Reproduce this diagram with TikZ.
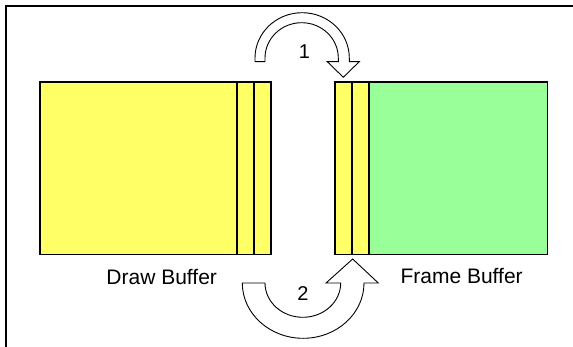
\documentclass[tikz,border=0pt]{standalone}
\usepackage{fontspec}
\setmainfont{Liberation Sans}
\definecolor{bufyellow}{HTML}{FFFF66}
\definecolor{bufgreen}{HTML}{99FF99}
\begin{document}
\begin{tikzpicture}[x=1pt,y=1pt,
  boxline/.style={line width=1.5pt},
  arrowshape/.style={draw=black,fill=white,line width=0.9pt,line join=miter},
  label/.style={font=\fontsize{21}{24}\selectfont,anchor=base,inner sep=0pt},
  num/.style={font=\fontsize{20}{24}\selectfont,inner sep=0pt}]
\useasboundingbox (0,0) rectangle (573,346);
\clip (0,0) rectangle (573,346);
% frame (only top and left edges visible)
\draw[line width=2.2pt] (6,-5) -- (6,340) -- (580,340);
% draw buffer
\node[boxline,draw,fill=bufyellow,minimum width=230.6pt,minimum height=172.5pt,inner sep=0pt] (drawbuf) at (155.5,177.75) {};
\draw[boxline] (236.8,91.5) -- (236.8,264);
\draw[boxline] (254,91.5) -- (254,264);
% frame buffer
\fill[bufgreen] (369,91.5) rectangle (547.3,264);
\fill[bufyellow] (335,91.5) rectangle (369,264);
\node[boxline,draw,minimum width=212.3pt,minimum height=172.5pt,inner sep=0pt] (framebuf) at (441.15,177.75) {};
\draw[boxline] (352,91.5) -- (352,264);
\draw[boxline] (369,91.5) -- (369,264);
% labels
\node[label] (dlabel) at (161.7,61.7) {Draw Buffer};
\node[label] (flabel) at (461.6,62.5) {Frame Buffer};
% arrow 1
\draw[arrowshape] (255,284.3) -- (255,288)
  arc[start angle=180,end angle=0,x radius=47.15,y radius=45.3]
  -- (349.3,284.3) -- (359.3,284.3) -- (343.3,268.7) -- (327.3,284.3) -- (338.3,284.3)
  -- (338.3,288) arc[start angle=0,end angle=180,x radius=36.65,y radius=35.3]
  -- (265,284.3) -- cycle;
\node[num] (n1) at (304.5,294.3) {1};
% arrow 2
\draw[arrowshape] (242.3,63)
  arc[start angle=180,end angle=360,x radius=60.85,y radius=55.3]
  -- (378.3,63) -- (352.7,87) -- (326,63) -- (340.7,63)
  arc[start angle=360,end angle=180,x radius=37.85,y radius=34.3]
  -- cycle;
\node[num] (n2) at (303,52.7) {2};
\end{tikzpicture}
\end{document}
